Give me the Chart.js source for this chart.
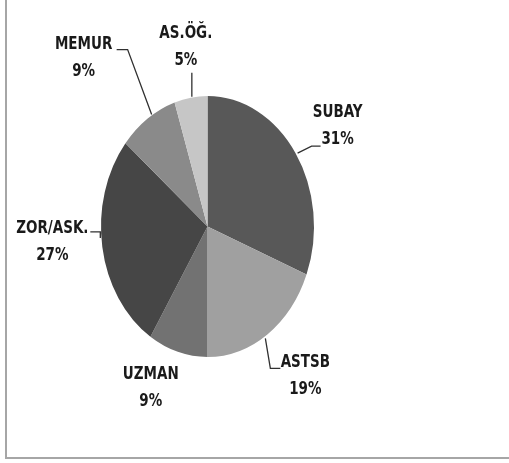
<!DOCTYPE html>
<html>
<head>
<meta charset="utf-8">
<script src="https://cdn.jsdelivr.net/npm/chart.js@4.4.0/dist/chart.umd.min.js"></script>
<style>
    html, body { margin: 0; padding: 0; background: #fff; overflow: hidden; }
    #wrap { position: relative; width: 509px; height: 463px; overflow: hidden; }
    #frame { position: absolute; left: 5px; top: -4px; width: 600px; height: 463px; border-left: 2px solid #a6a6a6; border-bottom: 2px solid #a6a6a6; box-sizing: border-box; }
    canvas { position: absolute; left: 0; top: 0; }
</style>
</head>
<body>
<div id="wrap">
    <div id="frame"></div>
    <canvas id="pieChart" width="509" height="463"></canvas>
</div>
<script>
// veriler
const categories = ['SUBAY', 'ASTSB', 'UZMAN', 'ZOR/ASK.', 'MEMUR', 'AS.ÖĞ.'];
const percents = [31, 19, 9, 27, 9, 5];
const sliceColors = ['#585858', '#a0a0a0', '#727272', '#464646', '#8a8a8a', '#c6c6c6'];

// etiket yerleşimi: dilim kenarından kaydırma (dx, dy) ve çizgi tipi
const labelLayout = [
    { dx: 42, dy: -28, leader: 'elbowRight' },
    { dx: 38, dy: 41, leader: 'elbowDown' },
    { dx: -27, dy: 36, leader: 'none' },
    { dx: -50, dy: -6, leader: 'elbowLeft' },
    { dx: -64, dy: -61, leader: 'diag' },
    { dx: -5, dy: -51, leader: 'vertical' }
];

const yStretch = 1.225; // elips görünümü için dikey ölçek
const textStretch = 1.2;

const ellipsePlugin = {
    id: 'ellipse',
    beforeDatasetsDraw(chart) {
        const arc = chart.getDatasetMeta(0).data[0];
        const ctx = chart.ctx;
        ctx.save();
        ctx.translate(arc.x, arc.y);
        ctx.scale(1, yStretch);
        ctx.translate(-arc.x, -arc.y);
    },
    afterDatasetsDraw(chart) {
        chart.ctx.restore();
    }
};

function tallText(ctx, text, x, y) {
    ctx.save();
    ctx.translate(x, y);
    ctx.scale(1, textStretch);
    ctx.fillText(text, 0, 0);
    ctx.restore();
}

const labelPlugin = {
    id: 'sliceLabels',
    afterDraw(chart) {
        const ctx = chart.ctx;
        const arcs = chart.getDatasetMeta(0).data;
        ctx.save();
        ctx.font = "bold 15px 'DejaVu Sans Condensed', 'Liberation Sans', sans-serif";
        ctx.textAlign = 'center';
        ctx.textBaseline = 'middle';
        arcs.forEach((arc, i) => {
            const mid = (arc.startAngle + arc.endAngle) / 2;
            const r = arc.outerRadius;
            const ex = arc.x + Math.cos(mid) * r;
            const ey = arc.y + Math.sin(mid) * r * yStretch;
            const lay = labelLayout[i];
            const lx = ex + lay.dx;
            const ly = ey + lay.dy;

            // bağlantı çizgisi
            ctx.strokeStyle = '#303030';
            ctx.lineWidth = 1.3;
            ctx.beginPath();
            if (lay.leader === 'elbowRight') {
                ctx.moveTo(ex + 2, ey);
                ctx.lineTo(ex + 16, ey - 7);
                ctx.lineTo(ex + 25, ey - 7);
            } else if (lay.leader === 'elbowDown') {
                ctx.moveTo(ex - 2, ey + 4);
                ctx.lineTo(ex + 3, ey + 34);
                ctx.lineTo(ex + 13, ey + 34);
            } else if (lay.leader === 'elbowLeft') {
                ctx.moveTo(ex - 2, ey - 9);
                ctx.lineTo(ex - 2, ey - 15);
                ctx.lineTo(ex - 12, ey - 15);
            } else if (lay.leader === 'diag') {
                ctx.moveTo(ex + 4, ey - 4);
                ctx.lineTo(ex - 20, ey - 69);
                ctx.lineTo(ex - 31, ey - 69);
            } else if (lay.leader === 'vertical') {
                ctx.moveTo(ex + 1, ey - 1);
                ctx.lineTo(ex + 1, ey - 25);
            }
            if (lay.leader !== 'none') ctx.stroke();

            ctx.fillStyle = '#1a1a1a';
            tallText(ctx, categories[i], lx, ly - 13);
            tallText(ctx, percents[i] + '%', lx, ly + 14);
        });
        ctx.restore();
    }
};

const ctx = document.getElementById('pieChart').getContext('2d');
const pieChart = new Chart(ctx, {
    type: 'pie',
    data: {
        labels: categories,
        datasets: [{
            data: percents,
            backgroundColor: sliceColors,
            borderWidth: 0
        }]
    },
    options: {
        responsive: false,
        animation: false,
        layout: {
            padding: { left: 101, right: 195, top: 120, bottom: 130 }
        },
        plugins: {
            legend: { display: false },
            tooltip: { enabled: false }
        }
    },
    plugins: [ellipsePlugin, labelPlugin]
});
</script>
</body>
</html>
